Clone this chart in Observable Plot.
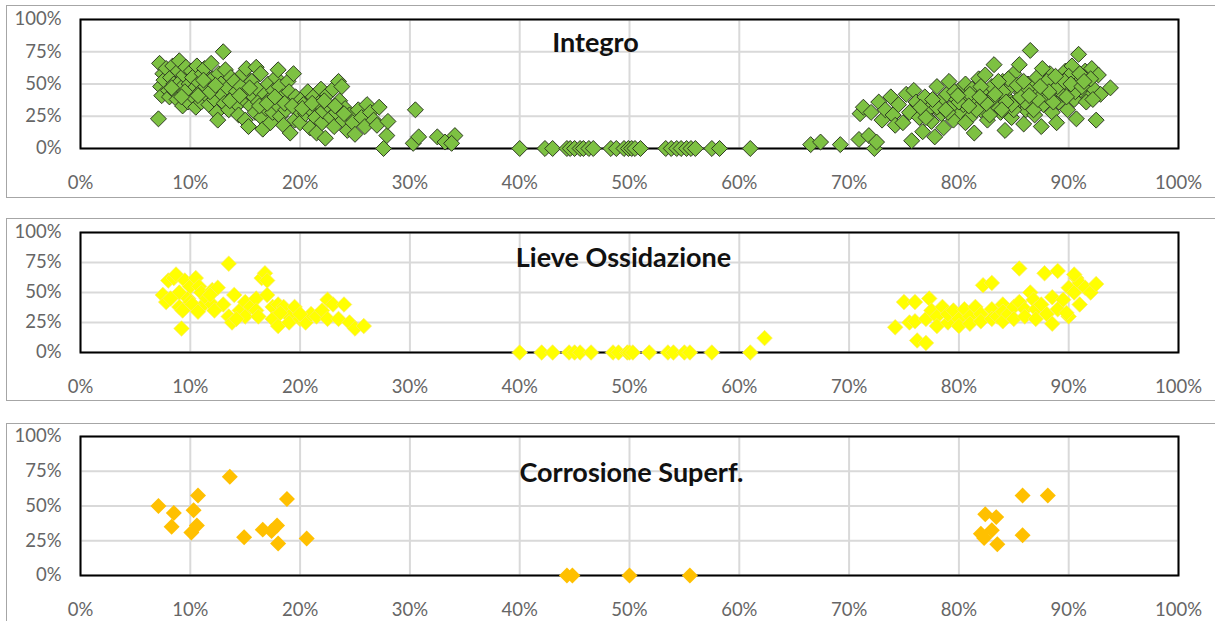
<!DOCTYPE html>
<html><head><meta charset="utf-8">
<script src="https://cdn.jsdelivr.net/npm/d3@7"></script>
<script src="https://cdn.jsdelivr.net/npm/@observablehq/plot@0.6"></script>
<style>
body{margin:0;background:#fff;width:1215px;height:621px;overflow:hidden;position:relative;font-family:Lato,sans-serif}
.panel{position:absolute;left:0;width:1215px}
.box{position:absolute;left:6px;top:0;width:1300px;height:100%;border:1px solid #a6a6a6;box-sizing:border-box}
.panel svg{position:absolute;left:0;top:0;overflow:visible}
</style></head><body>
<script>
const xTicks = [0,10,20,30,40,50,60,70,80,90,100];
const yTicks = [0,25,50,75,100];
const titles = ["Integro","Lieve Ossidazione","Corrosione Superf."];

const integro = [
[7.1,23],[7.2,66],[7.3,48],[7.4,41],[7.5,58],[7.6,53],[7.8,62],[8.0,45],[8.1,40],[8.2,55],[8.4,64],[8.5,50],[8.6,44],[8.8,38],[8.9,60],[9.0,68],[9.1,52],[9.2,47],[9.3,33],[9.4,57],[9.6,63],[9.7,42],[9.8,36],[9.9,50],[10.1,60],[10.2,55],[10.3,46],[10.4,39],[10.5,32],[10.6,64],[10.8,51],[10.9,44],[11.0,36],[11.1,58],[11.3,62],[11.4,48],[11.5,41],[11.7,34],[11.9,66],[12.0,54],[12.1,46],[12.2,38],[12.4,28],[12.5,22],[12.6,58],[12.8,50],[12.9,42],[13.0,75],[13.1,35],[13.2,61],[13.4,47],[13.5,30],[13.7,55],[13.9,40],[14.0,52],[14.2,44],[14.3,34],[14.4,26],[14.6,48],[14.8,58],[14.9,38],[15.0,22],[15.1,62],[15.2,44],[15.3,17],[15.5,33],[15.6,52],[15.8,40],[15.9,28],[16.0,63],[16.1,46],[16.2,36],[16.4,58],[16.5,24],[16.6,15],[16.8,42],[16.9,31],[17.1,50],[17.2,38],[17.3,20],[17.5,28],[17.6,45],[17.8,55],[17.9,34],[18.0,61],[18.1,48],[18.2,25],[18.4,40],[18.5,18],[18.7,30],[18.9,52],[19.0,44],[19.1,12],[19.2,36],[19.4,58],[19.5,22],[19.6,40],[19.8,30],[20.0,20],[20.1,38],[20.3,34],[20.5,27],[20.7,44],[20.9,16],[21.0,30],[21.2,40],[21.4,24],[21.5,12],[21.7,35],[21.9,46],[22.0,20],[22.1,29],[22.3,8],[22.5,42],[22.6,33],[22.8,24],[23.0,46],[23.1,17],[23.3,28],[23.5,52],[23.6,37],[23.8,48],[23.9,22],[24.1,31],[24.3,14],[24.5,26],[24.8,20],[25.0,11],[25.3,30],[25.6,24],[25.9,17],[26.1,34],[26.4,28],[26.7,22],[27.0,18],[27.2,32],[27.6,0],[27.9,10],[28.0,21],
[8.3,47],[9.5,44],[10.7,41],[11.8,44],[12.3,49],[13.6,37],[14.5,41],[15.4,47],[16.3,33],[17.0,35],[17.7,40],[18.6,35],[19.3,33],[20.2,31],[21.1,35],[22.2,37],[23.2,33],[24.0,27],[11.2,53],[9.2,40],
[30.5,30],[30.3,4],[30.8,9],[32.5,9],[33.2,5],[34.1,10],[33.8,4],
[40,0],[42.3,0],[43,0],[44.3,0],[44.6,0],[45,0],[45.5,0],[45.8,0],[46.3,0],[46.7,0],[48.3,0],[48.8,0],[49.5,0],[49.9,0],[50.2,0],[50.5,0],[51,0],[53.3,0],[53.8,0],[54.3,0],[54.7,0],[55.2,0],[55.6,0],[56,0],[57.5,0],[58.2,0],[61,0],
[66.5,3],[67.4,5],[69.2,3],[70.9,7],[71.0,27],[71.3,32],[71.8,10],[72.0,28],[72.3,0],[72.5,5],[72.7,36],[73.0,22],[73.3,30],[73.8,40],[74.0,26],[74.2,18],[74.5,34],[74.9,20],[75.2,42],[75.5,28],[75.7,6],[75.9,45],[76.1,36],[76.4,24],[76.7,13],[76.9,40],[77.2,30],[77.5,21],[77.8,9],[78.0,48],[78.2,36],[78.4,27],[78.6,16],[78.9,42],[79.1,52],[79.3,32],[79.5,22],[79.8,38],[80.0,45],[80.2,28],[80.4,34],[80.6,50],[80.8,40],[81.0,24],[81.2,46],[81.4,12],[81.6,36],[81.8,54],[82.0,30],[82.2,43],[82.4,57],[82.6,22],[82.8,38],[83.0,48],[83.2,65],[83.4,33],[83.6,44],[83.8,28],[84.0,52],[84.2,14],[84.4,39],[84.6,47],[84.8,24],[85.0,58],[85.2,35],[85.5,65],[85.7,43],[85.9,19],[86.1,30],[86.3,50],[86.5,76],[86.7,38],[86.9,26],[87.1,55],[87.3,45],[87.5,17],[87.7,34],[87.9,50],[88.1,40],[88.3,58],[88.5,28],[88.7,46],[88.9,20],[89.1,36],[89.3,54],[89.5,42],[89.7,60],[89.9,30],[90.1,48],[90.3,64],[90.5,38],[90.7,23],[90.9,73],[91.1,55],[91.3,44],[91.5,60],[91.7,50],[91.9,40],[92.1,62],[92.3,46],[92.5,22],[92.7,57],[92.9,42],[93.8,47],[90.0,56],[89.0,48],[88.0,52],[87.0,42],[86.0,36],[85.0,30],[84.0,44],[83.0,38],[82.0,48],[81.0,42],[80.0,36],[79.0,28],[78.0,32],[77.0,24],[84.5,54],[86.2,46],[88.6,36],[90.6,44],[91.6,36],[89.6,52],[87.6,62],[85.6,40],[83.6,52],[81.6,30],[79.6,44],[92.0,54],[91.0,58],[90.2,50],[86.8,30],[84.8,34],[82.8,26],[80.6,20],[87.2,38],[85.3,49],[83.3,42],[88.8,56],[91.2,48],[92.2,38],
[76.5,32],[78.8,30],[80.9,33],[82.5,35],[84.3,36],[86.4,41],[88.2,44],[89.8,40],[91.4,52],[87.4,48],[85.9,52],[83.9,30],[81.9,40],[79.9,41],[77.6,38]
];

const lieve = [
[7.5,48],[7.8,42],[8,60],[8.5,62],[8.7,65],[9,50],[9,38],[9.2,20],[9.5,60],[9.8,45],[10,55],[10,42],[10.5,62],[10.8,55],[11,50],[11,38],[11.5,45],[12,52],[12,40],[12.5,54],[13,40],[13.5,74],[13.5,30],[13.8,25],[14,48],[14.5,35],[15,42],[15.5,38],[15,30],[16,45],[16,35],[16.5,62],[16.8,66],[17,60],[17,48],[17.5,38],[17.5,28],[18,40],[18,22],[18.5,38],[19,30],[19.5,38],[19,25],[20,28],[20.5,25],[21,32],[21.5,30],[22,35],[22.5,44],[22.5,28],[23,40],[23.5,28],[24,40],[24.5,25],[25,20],[25.8,22],[8.2,45],[9.3,35],[10.2,40],[12.2,35],[14.2,28],[16.2,30],[18.2,33],[20,32],[11.8,48],[10.7,34],
[40,0],[42,0],[43,0],[44.5,0],[45,0],[45.5,0],[46.5,0],[48.5,0],[49,0],[49.8,0],[50,0],[50.3,0],[51.8,0],[53.5,0],[54,0],[55,0],[55.5,0],[57.5,0],[61,0],[62.3,12],
[74.2,21],[75,42],[75.5,25],[76,42],[76,26],[76.2,10],[77,8],[77,28],[77.3,45],[77.5,35],[78,30],[78,22],[78.5,38],[79,25],[79,32],[79.5,35],[80,28],[80,22],[80.5,36],[81,30],[81,24],[81.5,38],[82,32],[82,26],[82.2,56],[83,58],[83,36],[83,28],[83.5,30],[84,40],[84,34],[84,26],[84.5,32],[85,38],[85,28],[85.5,70],[85.5,42],[86,36],[86,30],[86.5,50],[86.8,44],[87,36],[87,28],[87.5,40],[87.8,66],[88,32],[88.5,46],[88.5,24],[89,36],[89,68],[89.5,44],[90,30],[90,54],[90.5,50],[90.7,62],[91,40],[91,58],[91.5,54],[92,50],[92.5,57],[90.5,65],[89.8,33]
];

const corrosione = [
[7.1,50],[8.5,45],[8.3,35],[10.3,47],[10.7,57.5],[10.6,36],[10.1,31],[13.6,71],[14.9,27.5],[16.6,33],[17.9,36],[17.4,32],[18,23],[18.8,55],[20.6,26.6],
[44.3,0],[44.8,0],[50,0],[55.5,0],
[85.8,57.5],[88.1,57.5],[82.4,44],[83.4,42],[82,30],[83,32.5],[82.3,27],[83.5,22.5],[85.8,29]
];

const panels = [
  {data:integro, fill:"#7dc142", stroke:"#2e3a22", sw:1, r:7.2, top:5, height:193, mt:14, mb:50, dx:-34, dy:13},
  {data:lieve, fill:"#ffff00", stroke:"#fbe86a", sw:0.7, r:7, top:218, height:183, mt:14, mb:49, dx:-6, dy:15},
  {data:corrosione, fill:"#ffc000", stroke:"none", sw:0, r:7.2, top:423, height:200, mt:13, mb:48, dx:2, dy:26}
];

panels.forEach((p, i) => {
  const div = document.createElement("div");
  div.className = "panel";
  div.style.top = p.top + "px";
  div.style.height = p.height + "px";
  const box = document.createElement("div");
  box.className = "box";
  div.appendChild(box);
  const chart = Plot.plot({
    width: 1215, height: p.height,
    marginLeft: 80, marginRight: 37, marginTop: p.mt, marginBottom: p.mb,
    style: {fontFamily: "Lato, sans-serif", fontSize: "18.5px", color: "#666666", background: "transparent", overflow: "visible"},
    x: {domain: [0, 100], ticks: xTicks, tickFormat: d => d + "%", tickSize: 0, tickPadding: 27, label: null},
    y: {domain: [0, 100], ticks: yTicks, tickFormat: d => d + "%", tickSize: 0, tickPadding: 19, label: null},
    marks: [
      Plot.gridX(xTicks, {stroke: "#d9d9d9", strokeOpacity: 1, strokeWidth: 2}),
      Plot.gridY(yTicks, {stroke: "#d9d9d9", strokeOpacity: 1, strokeWidth: 2}),
      Plot.frame({stroke: "#000", strokeWidth: 2}),
      Plot.text([titles[i]], {frameAnchor: "top", dx: p.dx, dy: p.dy, lineAnchor: "top", fontSize: 27, fontWeight: "bold", fill: "#111"}),
      Plot.dot(p.data, {x: d => d[0], y: d => d[1], symbol: "diamond2", r: p.r, fill: p.fill, stroke: p.stroke, strokeWidth: p.sw})
    ]
  });
  div.appendChild(chart);
  document.body.appendChild(div);
});
</script>
</body></html>
